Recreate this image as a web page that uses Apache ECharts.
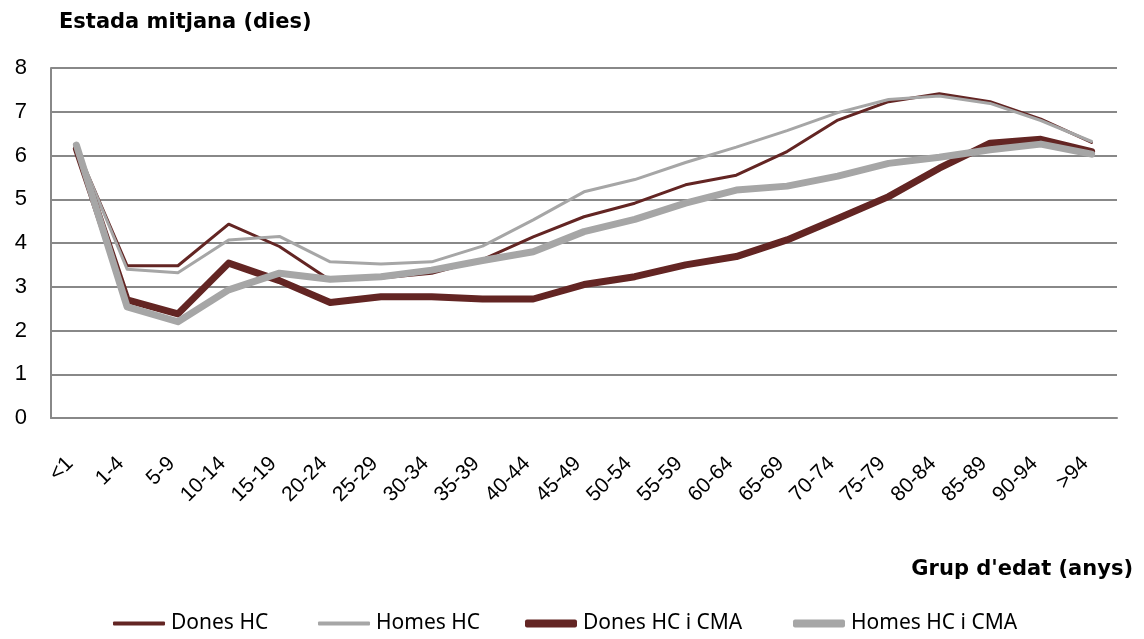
<!DOCTYPE html>
<html>
<head>
<meta charset="utf-8">
<script src="https://cdn.jsdelivr.net/npm/echarts@6/dist/echarts.min.js"></script>
<style>
  html, body { margin: 0; padding: 0; background: #fff; }
  #chart { width: 1144px; height: 639px; }
</style>
</head>
<body>
<div id="chart"></div>
<script>
  // grups d'edat
  const categories = ['<1', '1-4', '5-9', '10-14', '15-19', '20-24', '25-29', '30-34', '35-39', '40-44',
    '45-49', '50-54', '55-59', '60-64', '65-69', '70-74', '75-79', '80-84', '85-89', '90-94', '>94'];

  const donesHC = [6.17, 3.48, 3.48, 4.43, 3.92, 3.15, 3.2, 3.31, 3.62, 4.14,
    4.6, 4.91, 5.33, 5.55, 6.09, 6.81, 7.23, 7.41, 7.23, 6.83, 6.3];
  const homesHC = [6.2, 3.4, 3.32, 4.07, 4.15, 3.57, 3.52, 3.57, 3.93, 4.53,
    5.17, 5.45, 5.84, 6.19, 6.57, 6.98, 7.28, 7.36, 7.19, 6.8, 6.32];
  const donesCMA = [6.15, 2.7, 2.38, 3.54, 3.14, 2.64, 2.77, 2.77, 2.72, 2.72,
    3.05, 3.23, 3.5, 3.69, 4.07, 4.56, 5.06, 5.71, 6.28, 6.37, 6.09];
  const homesCMA = [6.24, 2.54, 2.2, 2.93, 3.31, 3.17, 3.23, 3.38, 3.6, 3.8,
    4.26, 4.54, 4.91, 5.21, 5.3, 5.53, 5.82, 5.96, 6.13, 6.26, 6.03];

  const yTicks = [0, 1, 2, 3, 4, 5, 6, 7, 8];

  const DARK = '#632523';
  const GREY = '#a6a6a6';
  const FONT = 'Liberation Sans, Arial, sans-serif';
  const BOLD = 'DejaVu Sans, sans-serif';
  const LEG = 'Noto Sans, sans-serif';

  let myChart = echarts.init(document.getElementById('chart'));

  function serie(name, data, color, width) {
    return {
      name: name,
      type: 'line',
      data: data,
      symbol: 'none',
      lineStyle: { color: color, width: width, cap: 'round', join: 'round' },
      itemStyle: { color: color }
    };
  }

  // una llegenda per element (gruixos diferents)
  function llegenda(name, left, h) {
    return {
      data: [name],
      left: left, top: 608,
      icon: 'roundRect',
      itemWidth: 52, itemHeight: h,
      textStyle: { fontFamily: LEG, fontSize: 21, color: '#000', padding: [0, 0, 0, 1] }
    };
  }

  let option = {
    animation: false,
    textStyle: { fontFamily: FONT },
    title: [
      {
        text: 'Estada mitjana (dies)',
        left: 54, top: 7,
        textStyle: { fontFamily: BOLD, fontSize: 21, fontWeight: 'bold', color: '#000' }
      },
      {
        text: "Grup d'edat (anys)",
        right: 6, top: 554,
        textStyle: { fontFamily: BOLD, fontSize: 21, fontWeight: 'bold', color: '#000' }
      }
    ],
    legend: [
      llegenda('Dones HC', 108, 4),
      llegenda('Homes HC', 313, 4),
      llegenda('Dones HC i CMA', 520, 8),
      llegenda('Homes HC i CMA', 788, 8)
    ],
    grid: { left: 51, right: 27, top: 68, bottom: 221, containLabel: false },
    xAxis: {
      type: 'category',
      data: categories,
      boundaryGap: true,
      axisLine: { lineStyle: { color: '#888', width: 2 } },
      axisTick: { show: false },
      axisLabel: {
        rotate: 45, interval: 0, margin: 36,
        padding: [0, 9, 0, 0],
        fontFamily: FONT, fontSize: 21, color: '#000'
      }
    },
    yAxis: {
      type: 'value',
      min: yTicks[0], max: yTicks[yTicks.length - 1], interval: 1,
      axisLine: { show: true, lineStyle: { color: '#888', width: 2 } },
      axisTick: { show: false },
      axisLabel: { margin: 24, fontFamily: FONT, fontSize: 22, color: '#000' },
      splitLine: { lineStyle: { color: '#888', width: 2 } }
    },
    series: [
      serie('Dones HC', donesHC, DARK, 3),
      serie('Homes HC', homesHC, GREY, 3),
      serie('Dones HC i CMA', donesCMA, DARK, 7),
      serie('Homes HC i CMA', homesCMA, GREY, 7)
    ]
  };
  myChart.setOption(option);
</script>
</body>
</html>
